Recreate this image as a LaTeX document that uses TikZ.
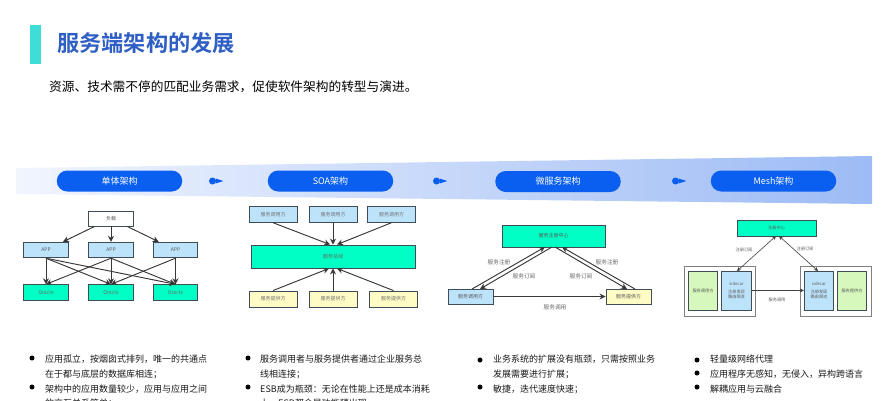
\documentclass[tikz,border=0pt]{standalone}
\usepackage{fontspec}
\setmainfont{Noto Sans CJK SC}
\newfontfamily\cjkb{Noto Sans CJK SC Bold}
\usetikzlibrary{arrows.meta,shadings}
\definecolor{ttl}{HTML}{2F5FC4}
\definecolor{bar}{HTML}{3FDDD8}
\definecolor{pill}{HTML}{0A5FF0}
\definecolor{bandR}{HTML}{9DBBF5}
\definecolor{bandL}{HTML}{F1F5FE}
\definecolor{teal}{HTML}{00FFC4}
\definecolor{lblue}{HTML}{BDE3FB}
\definecolor{lyel}{HTML}{FFFBC4}
\definecolor{lgrn}{HTML}{D6F8BC}
\definecolor{edge}{HTML}{3F4E55}
\tikzset{
 box/.style={draw=edge,line width=0.9pt,inner sep=0pt,font=\fontsize{5}{6}\selectfont,text=black!65},
 wbox/.style={box,fill=white},
 tbox/.style={box,fill=teal},
 bbox/.style={box,fill=lblue},
 ybox/.style={box,fill=lyel},
 gbox/.style={box,fill=lgrn},
 frame/.style={draw=black!50,line width=0.8pt,fill=white,inner sep=0pt},
 pillbox/.style={fill=pill,rounded corners=10.5pt,minimum width=125.5pt,minimum height=21pt,inner sep=0pt,text=white,font=\fontsize{9}{10}\selectfont},
 arr/.style={draw=black!78,line width=0.95pt,-{Stealth[length=6pt,width=6pt]}},
 thin arr/.style={draw=black!75,line width=0.6pt,{Stealth[length=4pt,width=4pt]}-{Stealth[length=4pt,width=4pt]}},
 thin one/.style={draw=black!75,line width=0.6pt,-{Stealth[length=4pt,width=4pt]}},
 lbl/.style={font=\fontsize{5.7}{6}\selectfont,text=black!60,inner sep=0pt},
 tiny lbl/.style={font=\fontsize{4.2}{5}\selectfont,text=black!65,inner sep=0pt},
 mesh box/.style={minimum width=29.5pt,minimum height=39pt,font=\fontsize{4.2}{5}\selectfont,text=black!65,align=center},
 bullettext/.style={anchor=north west,inner sep=0pt,font=\fontsize{9}{14.6}\selectfont,text=black!90,align=left},
 dotm/.style={circle,fill=black,minimum size=5pt,inner sep=0pt},
 mark dot/.style={circle,fill=pill,minimum size=7pt,inner sep=0pt},
 mark tip/.style={fill=pill,draw=none},
}
\begin{document}
\begin{tikzpicture}[x=1pt,y=-1pt]
\useasboundingbox (0,0) rectangle (889,400);
\clip (0,0) rectangle (889,400);
% title
\node[fill=bar,minimum width=11pt,minimum height=39pt,inner sep=0pt] (tbar) at (35.5,44.5) {};
\node[anchor=west,inner sep=0pt,text=ttl,font=\cjkb\fontsize{22.2}{24}\selectfont] (title) at (57,43) {服务端架构的发展};
\node[anchor=west,inner sep=0pt,text=black,font=\fontsize{12.7}{14}\selectfont] (sub) at (49,87) {资源、技术需不停的匹配业务需求，促使软件架构的转型与演进。};
% band
\shade[left color=bandL,right color=bandR,shading angle=90] (16,168) -- (872,156) -- (872,204) -- (16,194) -- cycle;
% pills
\node[pillbox] (p1) at (119.5,181) {单体架构};
\node[pillbox] (p2) at (330.5,181) {SOA架构};
\node[pillbox] (p3) at (558,181.5) {微服务架构};
\node[pillbox] (p4) at (773.5,181) {Mesh架构};
\foreach \n/\cx in {a/212.5,b/436.5,c/675.5}{
 \node[mark dot] (m\n) at (\cx,181) {};
 \fill[mark tip] (\cx+3,178.5) -- (\cx+11,181) -- (\cx+3,183.5) -- cycle;
}
% monolith
\node[wbox,minimum width=44.5pt,minimum height=15pt] (load) at (111,218.5) {负载};
\foreach \n/\cx in {1/46,2/111,3/175.5}{
 \node[bbox,minimum width=44.5pt,minimum height=15.5pt] (app\n) at (\cx,250) {\textit{APP}};
 \node[tbox,minimum width=44.5pt,minimum height=15.5pt,text=black!60] (or\n) at (\cx,292.5) {Oracle};
 \draw[arr] (load) -- (app\n);
}
\foreach \a/\b in {1/1,1/2,1/3,2/1,2/2,2/3,3/2,3/3}{\draw[arr] (app\a.south) -- (or\b.north);}
% SOA
\foreach \n/\cx in {1/273,2/333,3/391.5}{
 \node[bbox,minimum width=48pt,minimum height=15.5pt,text=black!55] (c\n) at (\cx,214.5) {服务调用方};
}
\foreach \n/\cx in {1/273,2/333,3/393.5}{
 \node[ybox,minimum width=48pt,minimum height=16pt,text=black!55] (s\n) at (\cx,299) {服务提供方};
}
\node[tbox,minimum width=164pt,minimum height=23pt,text=black!60] (bus) at (333,256.5) {服务总线};
\draw[arr] (c1.south) -- ([xshift=-3pt]bus.north);
\draw[arr] (c2.south) -- (bus.north);
\draw[arr] (c3.south) -- ([xshift=4pt]bus.north);
\draw[arr] (s1.north) -- ([xshift=-4pt]bus.south);
\draw[arr] (s2.north) -- (bus.south);
\draw[arr] (s3.north) -- ([xshift=4pt]bus.south);
% microservices
\node[tbox,minimum width=103pt,minimum height=22pt,text=black!65] (reg) at (553.5,236) {服务注册中心};
\node[bbox,minimum width=45pt,minimum height=15pt,text=black!65] (caller) at (470.5,296.5) {服务调用方};
\node[ybox,minimum width=45pt,minimum height=15pt,text=black!65] (prov) at (628.5,296.5) {服务提供方};
\coordinate (ra) at (545,247);
\coordinate (rb) at (552,247);
\coordinate (rc) at (555,247);
\coordinate (rd) at (562,247);
\coordinate (ca) at (472,289);
\coordinate (cb) at (480,289);
\coordinate (pa) at (627,289);
\coordinate (pb) at (635,289);
\draw[arr] (ca) -- (ra);
\draw[arr] (rb) -- (cb);
\draw[arr] (rc) -- (pa);
\draw[arr] (pb) -- (rd);
\draw[arr] (caller) -- (prov);
\node[lbl] (l1) at (499,262) {服务注册};
\node[lbl] (l2) at (524,276) {服务订阅};
\node[lbl] (l3) at (581,276) {服务订阅};
\node[lbl] (l4) at (607,262) {服务注册};
\node[lbl] (l5) at (555,307) {服务调用};
% mesh
\node[tbox,minimum width=79pt,minimum height=16pt,font=\fontsize{4.2}{5}\selectfont,text=black!65] (rc2) at (776.5,228) {注册中心};
\node[frame,minimum width=71pt,minimum height=50pt] (fl) at (719.5,291) {};
\node[frame,minimum width=71pt,minimum height=50pt] (fr) at (835.5,291) {};
\node[gbox,mesh box] (g1) at (703,290.5) {服务调用方};
\node[bbox,mesh box] (sc1) at (736.5,290.5) {sidecar\\[3pt]注册发现\\路由限流};
\node[bbox,mesh box] (sc2) at (819,290.5) {sidecar\\[3pt]注册发现\\路由限流};
\node[gbox,mesh box] (g2) at (852,290.5) {服务提供方};
\coordinate (u1) at (776,236);
\coordinate (u2) at (779,236);
\coordinate (v1) at (737,271);
\coordinate (v2) at (818,271);
\draw[thin arr] (v1) -- (u1);
\draw[thin arr] (u2) -- (v2);
\draw[thin one] (sc1) -- (sc2);
\node[tiny lbl] (m1) at (744,250) {注册订阅};
\node[tiny lbl] (m2) at (805,249) {注册订阅};
\node[tiny lbl] (m3) at (777,300) {服务调用};
% bullets
\foreach \n/\x/\y in {a/32/358,b/32/387,c/248/358,d/248/387,e/480/360,f/480/387,g/697/360,h/697/373,i/697/387}{
 \node[dotm] (d\n) at (\x,\y) {};
}
\node[bullettext] (t1) at (45,355) {应用孤立，按烟囱式排列，唯一的共通点\\在于都与底层的数据库相连；\\架构中的应用数量较少，应用与应用之间\\的交互关系简单；};
\node[bullettext] (t2) at (260,355) {服务调用者与服务提供者通过企业服务总\\线相连接；\\ESB成为瓶颈：无论在性能上还是成本消耗\\上，ESB都会是功能预出现};
\node[bullettext] (t3) at (493,355) {业务系统的扩展没有瓶颈，只需按照业务\\发展需要进行扩展；\\敏捷，迭代速度快速；};
\node[bullettext] (t4) at (710,355) {轻量级网络代理\\应用程序无感知，无侵入，异构跨语言\\解耦应用与云融合};
\end{tikzpicture}
\end{document}
